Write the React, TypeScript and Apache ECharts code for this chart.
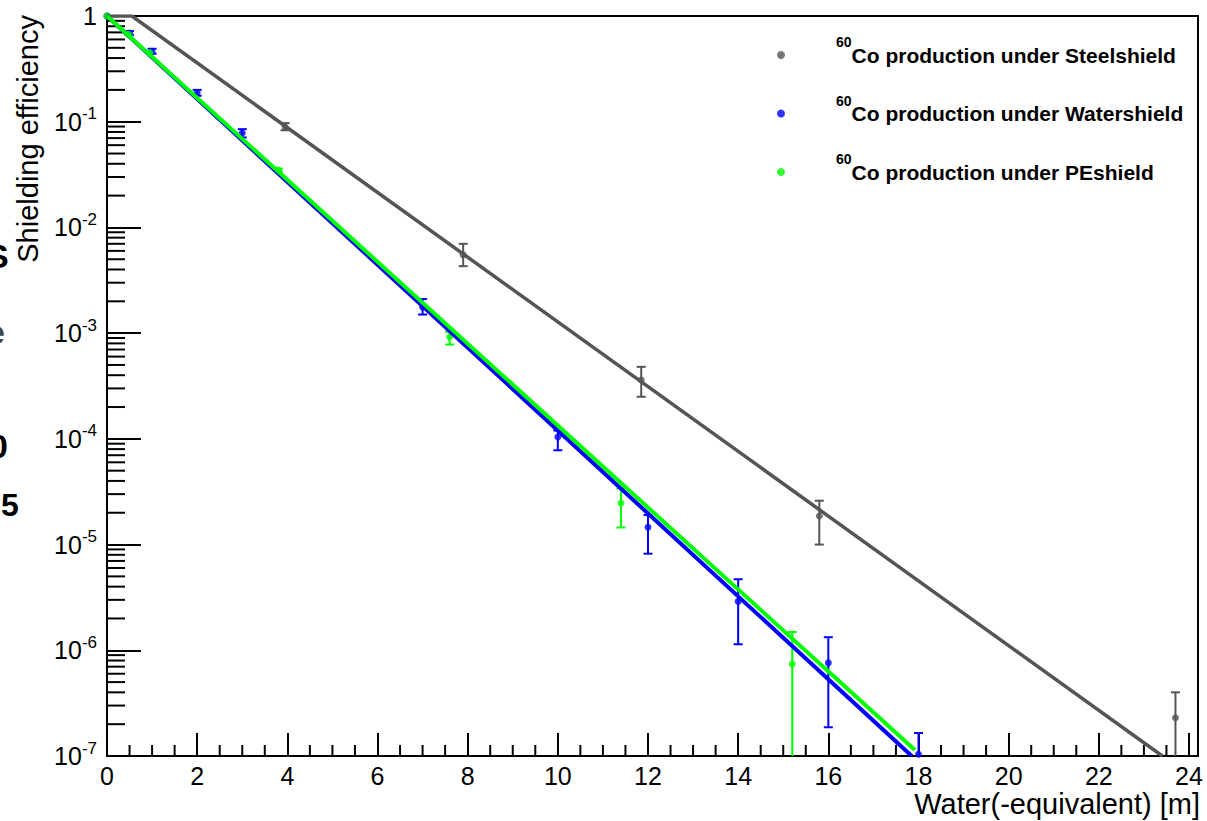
import React, { useEffect, useRef } from "react";
import * as echarts from "echarts";

// ---- data ----
const steelX = [0, 3.95, 7.9, 11.85, 15.8, 23.7];
const steelY = [1, 0.089, 5.5e-3, 3.6e-4, 1.86e-5, 2.3e-7];
const steelLo = [1, 0.083, 4.3e-3, 2.5e-4, 1.0e-5, 5e-8];
const steelHi = [1, 0.097, 7.0e-3, 4.8e-4, 2.6e-5, 4.0e-7];

const waterX = [0, 0.5, 1, 2, 3, 7, 10, 12, 14, 16, 18];
const waterY = [1, 0.69, 0.46, 0.187, 0.078, 1.77e-3, 1.04e-4, 1.46e-5, 2.9e-6, 7.6e-7, 1.04e-7];
const waterLo = [1, 0.66, 0.44, 0.176, 0.071, 1.5e-3, 7.8e-5, 8.2e-6, 1.14e-6, 1.87e-7, 5e-8];
const waterHi = [1, 0.72, 0.49, 0.2, 0.085, 2.1e-3, 1.2e-4, 1.9e-5, 4.7e-6, 1.33e-6, 1.65e-7];

const peX = [0, 0.475, 0.95, 3.8, 7.6, 11.4, 15.2];
const peY = [1, 0.67, 0.45, 0.035, 9.2e-4, 2.47e-5, 7.4e-7];
const peLo = [1, 0.67, 0.45, 0.034, 7.8e-4, 1.45e-5, 1e-8];
const peHi = [1, 0.67, 0.45, 0.036, 1.03e-3, 3.4e-5, 1.49e-6];

const steelFitX = [0, 0.55, 23.41];
const steelFitY = [1, 1, 1e-7];
const waterFitX = [0, 17.85];
const waterFitY = [1, 1e-7];
const peFitX = [0, 17.92];
const peFitY = [1, 1.14e-7];

const seriesNames = ["Steelshield", "Watershield", "PEshield"];
const seriesColors = ["#555555", "#0000ff", "#00ff00"];

const xTitle = "Water(-equivalent) [m]";
const yTitle = "Shielding efficiency";

const xMin = 0;
const xMax = 24.2;
const xInterval = 2;
const yMin = 1e-7;
const yMax = 1;

const FONT = "'Liberation Sans', Arial, Helvetica, sans-serif";

// minor tick positions (axis decoration)
const xMinor: number[] = [];
for (let i = 1; i < 48; i++) {
  const v = i * 0.5;
  if (v % 2 !== 0) xMinor.push(v);
}
const yMinor: number[] = [];
for (let e = -7; e < 0; e++) {
  for (let m = 2; m <= 9; m++) yMinor.push(m * Math.pow(10, e));
}

const zip = (a: number[], b: number[]) => a.map((v, i) => [v, b[i]]);
const zip3 = (a: number[], b: number[], c: number[]) => a.map((v, i) => [v, b[i], c[i]]);

function errSeries(name: string, color: string, data: number[][]) {
  return {
    type: "custom",
    name: name + "_err",
    clip: true,
    silent: true,
    data,
    renderItem: (params: any, api: any) => {
      const x = api.value(0);
      const lo = api.value(1);
      const hi = api.value(2);
      const pHi = api.coord([x, hi]);
      const pLo = api.coord([x, lo]);
      const w = 4.5;
      const st = { stroke: color, lineWidth: 2 };
      return {
        type: "group",
        children: [
          { type: "line", shape: { x1: pHi[0], y1: pHi[1], x2: pLo[0], y2: pLo[1] }, style: st },
          { type: "line", shape: { x1: pHi[0] - w, y1: pHi[1], x2: pHi[0] + w, y2: pHi[1] }, style: st },
          { type: "line", shape: { x1: pLo[0] - w, y1: pLo[1], x2: pLo[0] + w, y2: pLo[1] }, style: st },
        ],
      };
    },
  };
}

function pointSeries(name: string, color: string, data: number[][]) {
  return {
    type: "scatter",
    name,
    data,
    symbol: "circle",
    symbolSize: 7,
    itemStyle: { color },
    clip: true,
  };
}

function fitSeries(name: string, color: string, data: number[][], width: number) {
  return {
    type: "line",
    name: name + "_fit",
    data,
    showSymbol: false,
    symbol: "none",
    lineStyle: { color, width },
    silent: true,
    clip: true,
  };
}

export default function App() {
  const ref = useRef<HTMLDivElement>(null);
  useEffect(() => {
    if (!ref.current) return;
    const chart = echarts.init(ref.current, undefined, { renderer: "svg" });
    const option: any = {
      animation: false,
      backgroundColor: "#ffffff",
      textStyle: { fontFamily: FONT },
      grid: {
        left: 107,
        top: 16,
        right: 9,
        bottom: 65,
        containLabel: false,
        outerBoundsMode: "none",
        show: true,
        borderColor: "#000",
        borderWidth: 2,
        backgroundColor: "transparent",
      },
      legend: {
        orient: "vertical",
        left: 777,
        top: 35,
        padding: 0,
        itemWidth: 8,
        itemHeight: 8,
        itemGap: 28,
        icon: "circle",
        selectedMode: false,
        data: seriesNames.map((n, i) => ({ name: n, itemStyle: { color: seriesColors[i] } })),
        formatter: (name: string) => `{sup|60}{t|Co production under ${name}}`,
        textStyle: {
          fontFamily: FONT,
          color: "#000",
          rich: {
            sup: { fontSize: 14, fontWeight: "bold", lineHeight: 14, verticalAlign: "top", padding: [0, 0, 0, 46], fontFamily: FONT, color: "#000" },
            t: { fontSize: 21, fontWeight: "bold", lineHeight: 40, fontFamily: FONT, color: "#000" },
          },
        },
      },
      xAxis: {
        type: "value",
        min: xMin,
        max: xMax,
        interval: xInterval,
        splitLine: { show: false },
        axisLine: { show: true, onZero: false, lineStyle: { color: "#000", width: 2 } },
        axisTick: { show: true, inside: true, length: 23, lineStyle: { color: "#000", width: 2 } },
        axisLabel: {
          fontFamily: FONT,
          fontSize: 25,
          lineHeight: 21,
          color: "#000",
          margin: 9,
          formatter: (v: number) => (Math.abs(v / 2 - Math.round(v / 2)) < 1e-9 ? String(v) : ""),
        },
      },
      yAxis: {
        type: "log",
        logBase: 10,
        min: yMin,
        max: yMax,
        interval: 1,
        splitLine: { show: false },
        axisLine: { show: true, onZero: false, lineStyle: { color: "#000", width: 2 } },
        axisTick: { show: true, inside: true, length: 34, lineStyle: { color: "#000", width: 2 } },
        axisLabel: {
          fontFamily: FONT,
          color: "#000",
          margin: 10,
          formatter: (v: number) => {
            const e = Math.round(Math.log10(v));
            return e === 0 ? "{b|1}" : `{b|10}{s|${e}}`;
          },
          rich: {
            b: { fontSize: 25, lineHeight: 33, fontFamily: FONT, color: "#000" },
            s: { fontSize: 17, lineHeight: 17, verticalAlign: "top", fontFamily: FONT, color: "#000" },
          },
        },
      },
      graphic: [
        {
          type: "text",
          x: 28,
          y: 15,
          rotation: Math.PI / 2,
          style: {
            text: yTitle,
            fontFamily: FONT,
            fontSize: 29,
            fill: "#000",
            align: "right",
            verticalAlign: "middle",
          },
        },
        {
          type: "text",
          x: 1200,
          y: 804,
          style: {
            text: xTitle,
            fontFamily: FONT,
            fontSize: 29,
            lineHeight: 24,
            fill: "#000",
            align: "right",
            verticalAlign: "middle",
          },
        },
        { type: "text", x: -14, y: 256, style: { text: "S", fontFamily: FONT, fontWeight: "bold", fontSize: 34, fill: "#000", verticalAlign: "middle" } },
        { type: "text", x: -14, y: 332, style: { text: "e", fontFamily: FONT, fontWeight: "bold", fontSize: 34, fill: "#444", verticalAlign: "middle" } },
        { type: "text", x: -11, y: 446, style: { text: "0", fontFamily: FONT, fontWeight: "bold", fontSize: 34, fill: "#000", verticalAlign: "middle" } },
        { type: "text", x: 1, y: 505, style: { text: "5", fontFamily: FONT, fontWeight: "bold", fontSize: 32, fill: "#000", verticalAlign: "middle" } },
      ],
      series: [
        {
          type: "custom",
          name: "xMinorTicks",
          silent: true,
          data: xMinor.map((v) => [v, yMin]),
          renderItem: (params: any, api: any) => {
            const p = api.coord([api.value(0), yMin]);
            return { type: "line", shape: { x1: p[0], y1: p[1], x2: p[0], y2: p[1] - 11 }, style: { stroke: "#000", lineWidth: 2 } };
          },
        },
        {
          type: "custom",
          name: "yMinorTicks",
          silent: true,
          data: yMinor.map((v) => [xMin, v]),
          renderItem: (params: any, api: any) => {
            const p = api.coord([xMin, api.value(1)]);
            return { type: "line", shape: { x1: p[0], y1: p[1], x2: p[0] + 18, y2: p[1] }, style: { stroke: "#000", lineWidth: 2 } };
          },
        },
        fitSeries(seriesNames[0], seriesColors[0], zip(steelFitX, steelFitY), 3.5),
        errSeries(seriesNames[0], seriesColors[0], zip3(steelX, steelLo, steelHi)),
        pointSeries(seriesNames[0], seriesColors[0], zip(steelX, steelY)),
        errSeries(seriesNames[1], seriesColors[1], zip3(waterX, waterLo, waterHi)),
        pointSeries(seriesNames[1], seriesColors[1], zip(waterX, waterY)),
        fitSeries(seriesNames[1], seriesColors[1], zip(waterFitX, waterFitY), 4),
        errSeries(seriesNames[2], seriesColors[2], zip3(peX, peLo, peHi)),
        pointSeries(seriesNames[2], seriesColors[2], zip(peX, peY)),
        fitSeries(seriesNames[2], seriesColors[2], zip(peFitX, peFitY), 4),
      ],
    };
    chart.setOption(option);
    return () => chart.dispose();
  }, []);
  return <div ref={ref} style={{ position: "absolute", left: 0, top: 0, width: 1207, height: 821 }} />;
}
